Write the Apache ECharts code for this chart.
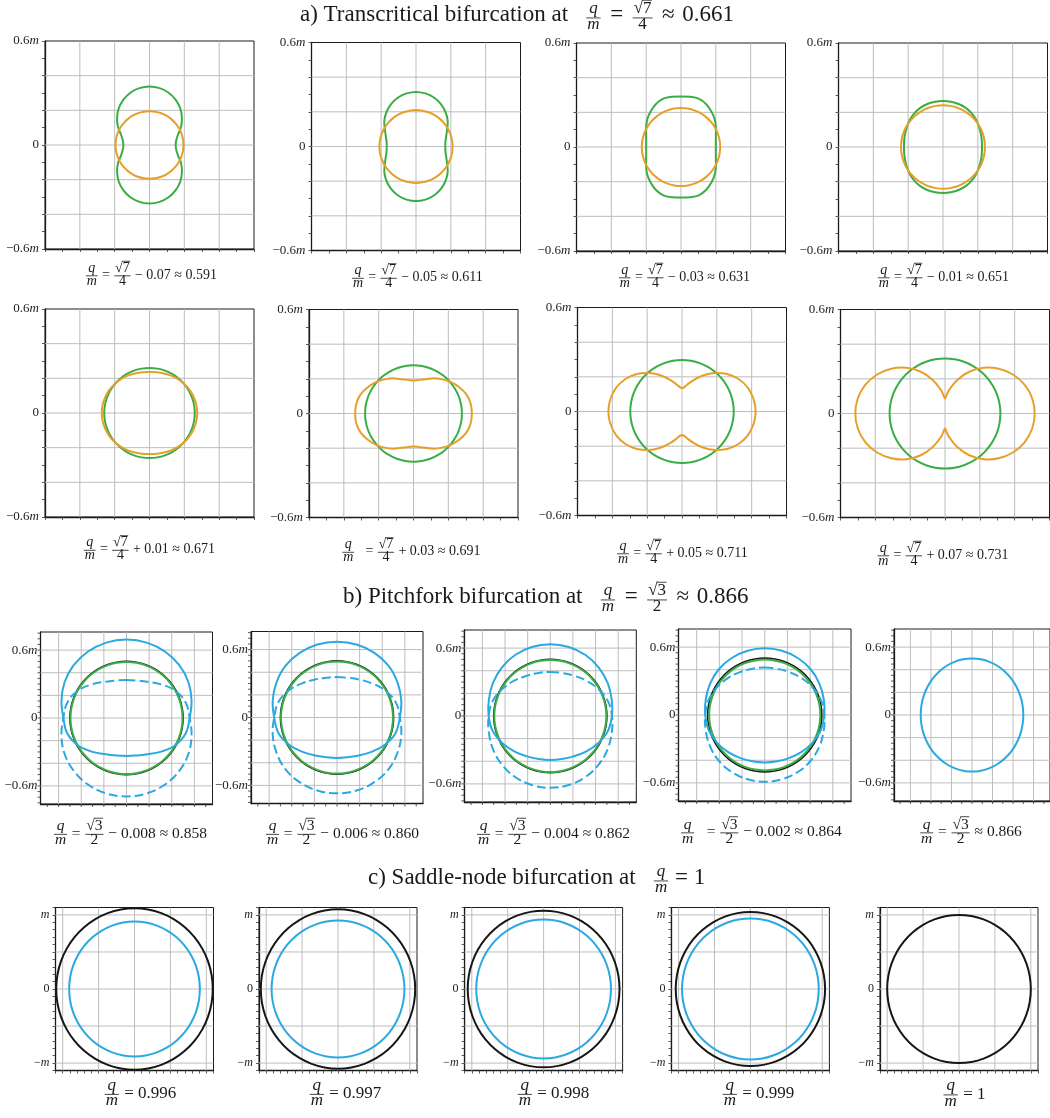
<!DOCTYPE html>
<html>
<head>
<meta charset="utf-8">
<script src="https://cdn.jsdelivr.net/npm/echarts/dist/echarts.min.js"></script>
<style>
  html, body { margin: 0; padding: 0; background: #fff; }
  #chart { width: 1050px; height: 1118px; }
</style>
</head>
<body>
<div id="chart"></div>
<script>
// ---------------------------------------------------------------------------
// Orbit shapes as radius profiles (units of m), sampled at fixed polar angles.
// Quarter profiles run 0..90 deg and are mirrored into both axes;
// half profiles run -90..90 deg (right half) and are mirrored across x = 0.
// ---------------------------------------------------------------------------
const QUARTER_ANGLES = [0, 10, 20, 30, 40, 50, 60, 70, 80, 90];
const CUSP_ANGLES = [0, 10, 20, 30, 40, 50, 60, 70, 80, 85, 90];
const HALF_ANGLES = [-90, -75, -60, -45, -30, -15, 0, 15, 30, 45, 60, 75, 90];

// a) transcritical bifurcation, q/m = sqrt(7)/4 + delta
const a1Green  = [0.150, 0.156, 0.174, 0.209, 0.243, 0.275, 0.301, 0.321, 0.333, 0.337];
const a1Orange = [0.195, 0.195, 0.195, 0.195, 0.195, 0.195, 0.195, 0.195, 0.195, 0.195];
const a2Green  = [0.168, 0.172, 0.185, 0.207, 0.237, 0.262, 0.284, 0.301, 0.311, 0.315];
const a2Orange = [0.210, 0.210, 0.210, 0.210, 0.210, 0.210, 0.210, 0.210, 0.210, 0.210];
const a3Green  = [0.200, 0.203, 0.213, 0.231, 0.252, 0.270, 0.287, 0.297, 0.294, 0.292];
const a3Orange = [0.225, 0.225, 0.225, 0.225, 0.225, 0.225, 0.225, 0.225, 0.225, 0.225];
const a4Green  = [0.224, 0.226, 0.231, 0.238, 0.247, 0.255, 0.261, 0.264, 0.265, 0.265];
const a4Orange = [0.241, 0.241, 0.241, 0.241, 0.241, 0.241, 0.241, 0.241, 0.241, 0.241];
const a5Green  = [0.260, 0.260, 0.260, 0.260, 0.260, 0.260, 0.260, 0.260, 0.260, 0.260];
const a5Orange = [0.274, 0.273, 0.270, 0.266, 0.261, 0.255, 0.249, 0.243, 0.239, 0.237];
const a6Green  = [0.278, 0.278, 0.278, 0.278, 0.278, 0.278, 0.278, 0.278, 0.278, 0.278];
const a6Orange = [0.335, 0.333, 0.323, 0.303, 0.281, 0.257, 0.235, 0.211, 0.197, 0.190];
const a7Green  = [0.297, 0.297, 0.297, 0.297, 0.297, 0.297, 0.297, 0.297, 0.297, 0.297];
const a7Orange = [0.423, 0.417, 0.402, 0.375, 0.337, 0.290, 0.240, 0.193, 0.155, 0.141, 0.135]; // CUSP_ANGLES
const a8Green  = [0.318, 0.318, 0.318, 0.318, 0.318, 0.318, 0.318, 0.318, 0.318, 0.318];
const a8Orange = [0.515, 0.508, 0.486, 0.450, 0.402, 0.344, 0.278, 0.206, 0.138, 0.108, 0.087]; // CUSP_ANGLES

// b) pitchfork bifurcation: upper blue branch (half profile); the dashed branch is its mirror in y
const b1Blue = [0.336, 0.343, 0.370, 0.423, 0.490, 0.540, 0.558, 0.595, 0.632, 0.660, 0.679, 0.690, 0.693];
const b2Blue = [0.357, 0.363, 0.388, 0.430, 0.485, 0.535, 0.555, 0.588, 0.618, 0.645, 0.660, 0.668, 0.670];
const b3Blue = [0.389, 0.394, 0.412, 0.445, 0.485, 0.525, 0.545, 0.562, 0.585, 0.606, 0.622, 0.631, 0.634];
const b4Blue = [0.419, 0.423, 0.437, 0.460, 0.487, 0.512, 0.525, 0.538, 0.556, 0.572, 0.582, 0.588, 0.590];
const b1Black = [0.500, 0.500, 0.500, 0.500, 0.500, 0.500, 0.500, 0.500, 0.500, 0.500];
const b1Green = [0.495, 0.495, 0.495, 0.495, 0.495, 0.495, 0.495, 0.495, 0.495, 0.495];
const b2Black = [0.500, 0.500, 0.500, 0.500, 0.500, 0.500, 0.500, 0.500, 0.500, 0.500];
const b2Green = [0.495, 0.495, 0.495, 0.495, 0.495, 0.495, 0.495, 0.495, 0.495, 0.495];
const b3Black = [0.500, 0.500, 0.500, 0.500, 0.500, 0.500, 0.500, 0.500, 0.500, 0.500];
const b3Green = [0.495, 0.495, 0.495, 0.495, 0.495, 0.495, 0.495, 0.495, 0.495, 0.495];
const b4Black = [0.503, 0.503, 0.503, 0.503, 0.503, 0.503, 0.503, 0.503, 0.503, 0.503];
const b4Green = [0.490, 0.490, 0.490, 0.490, 0.490, 0.490, 0.490, 0.490, 0.490, 0.490];
const b5Blue  = [0.500, 0.500, 0.500, 0.500, 0.500, 0.500, 0.500, 0.500, 0.500, 0.500];

// c) saddle-node bifurcation
const c1Black = [1.090, 1.090, 1.090, 1.090, 1.090, 1.090, 1.090, 1.090, 1.090, 1.090];
const c1Blue  = [0.910, 0.910, 0.910, 0.910, 0.910, 0.910, 0.910, 0.910, 0.910, 0.910];
const c2Black = [1.075, 1.075, 1.075, 1.075, 1.075, 1.075, 1.075, 1.075, 1.075, 1.075];
const c2Blue  = [0.925, 0.925, 0.925, 0.925, 0.925, 0.925, 0.925, 0.925, 0.925, 0.925];
const c3Black = [1.057, 1.057, 1.057, 1.057, 1.057, 1.057, 1.057, 1.057, 1.057, 1.057];
const c3Blue  = [0.938, 0.938, 0.938, 0.938, 0.938, 0.938, 0.938, 0.938, 0.938, 0.938];
const c4Black = [1.040, 1.040, 1.040, 1.040, 1.040, 1.040, 1.040, 1.040, 1.040, 1.040];
const c4Blue  = [0.952, 0.952, 0.952, 0.952, 0.952, 0.952, 0.952, 0.952, 0.952, 0.952];
const c5Black = [1.000, 1.000, 1.000, 1.000, 1.000, 1.000, 1.000, 1.000, 1.000, 1.000];

// Grid-line values, tick-mark values and labelled ticks of the panel axes
const GRID_A = [-0.4, -0.2, 0, 0.2, 0.4];
const GRID_B = [-0.6, -0.4, -0.2, 0, 0.2, 0.4, 0.6];
const GRID_C = [-1, -0.5, 0, 0.5, 1];
const TICKS_B_X = [-0.7, -0.6, -0.5, -0.4, -0.3, -0.2, -0.1, 0, 0.1, 0.2, 0.3, 0.4, 0.5, 0.6, 0.7];
const TICKS_B_Y = [-0.75, -0.7, -0.65, -0.6, -0.55, -0.5, -0.45, -0.4, -0.35, -0.3, -0.25, -0.2, -0.15, -0.1, -0.05, 0,
                   0.05, 0.1, 0.15, 0.2, 0.25, 0.3, 0.35, 0.4, 0.45, 0.5, 0.55, 0.6, 0.65, 0.7, 0.75];
const LABEL_VALUES_AB = [0.6, 0, -0.6];
const LABEL_TEXT_AB = ['0.6{i|m}', '0', '\u22120.6{i|m}'];
const LABEL_VALUES_C = [1, 0, -1];
const LABEL_TEXT_C = ['{i|m}', '0', '\u2212{i|m}'];

// Caption texts
const A_TAILS = ['\u2212 0.07 \u2248 0.591', '\u2212 0.05 \u2248 0.611', '\u2212 0.03 \u2248 0.631', '\u2212 0.01 \u2248 0.651',
                 '+ 0.01 \u2248 0.671', '+ 0.03 \u2248 0.691', '+ 0.05 \u2248 0.711', '+ 0.07 \u2248 0.731'];
const B_TAILS = ['\u2212 0.008 \u2248 0.858', '\u2212 0.006 \u2248 0.860', '\u2212 0.004 \u2248 0.862', '\u2212 0.002 \u2248 0.864', '\u2248 0.866'];
const C_VALUES = ['0.996', '0.997', '0.998', '0.999', '1'];
const TITLE_A = 'a) Transcritical bifurcation at';
const TITLE_B = 'b) Pitchfork bifurcation at';
const TITLE_C = 'c) Saddle-node bifurcation at';

// ---------------------------------------------------------------------------
// Styling
// ---------------------------------------------------------------------------
const FONT = '"Liberation Serif", "Times New Roman", serif';
const INK = '#1a1a1a';
const COL = { green: '#3aad44', orange: '#e6a02a', blue: '#2aa9e0', black: '#161616', grid: '#bdbdbd' };

// ---------------------------------------------------------------------------
// Profile -> closed point loop
// ---------------------------------------------------------------------------
const RAD = Math.PI / 180;
function polarPt(r, deg) { return [r * Math.cos(deg * RAD), r * Math.sin(deg * RAD)]; }

function loopFromQuarter(radii, A) {
  const n = A.length, pts = [];
  for (let i = 0; i < n; i++) pts.push(polarPt(radii[i], A[i]));
  for (let i = n - 2; i >= 0; i--) pts.push(polarPt(radii[i], 180 - A[i]));
  for (let i = 1; i < n; i++) pts.push(polarPt(radii[i], 180 + A[i]));
  for (let i = n - 2; i >= 1; i--) pts.push(polarPt(radii[i], 360 - A[i]));
  return pts;
}
function loopFromHalf(radii, mirrorY) {
  const H = HALF_ANGLES, m = H.length, pts = [];
  for (let j = 0; j < m; j++) pts.push(polarPt(radii[j], H[j]));
  for (let j = m - 2; j >= 1; j--) pts.push(polarPt(radii[j], 180 - H[j]));
  return mirrorY ? pts.map(p => [p[0], -p[1]]) : pts;
}

// ---------------------------------------------------------------------------
// Panel layout (pixels) and contents
// ---------------------------------------------------------------------------
const RANGE_A = [-0.6, 0.6, -0.6, 0.6];
const RANGE_B = [-0.76, 0.76, -0.76, 0.76];
const RANGE_C = [-1.1, 1.1, -1.1, 1.1];

const q = d => ({ data: d, kind: 'quarter', angles: QUARTER_ANGLES });
const qc = d => ({ data: d, kind: 'quarter', angles: CUSP_ANGLES });
const hf = (d, flip) => ({ data: d, kind: 'half', flip });
const DASH = [9, 4];

const PANELS = [
  // row a1
  { rect: [45, 41, 209, 208],      range: RANGE_A, tick: 0.1, grid: GRID_A, sec: 'a', curves: [[q(a1Green), COL.green, 2], [q(a1Orange), COL.orange, 2]] },
  { rect: [311.5, 42.5, 209, 208], range: RANGE_A, tick: 0.1, grid: GRID_A, sec: 'a', curves: [[q(a2Green), COL.green, 2], [q(a2Orange), COL.orange, 2]] },
  { rect: [576.5, 43, 209, 208],   range: RANGE_A, tick: 0.1, grid: GRID_A, sec: 'a', curves: [[q(a3Green), COL.green, 2], [q(a3Orange), COL.orange, 2]] },
  { rect: [838.5, 43, 209, 208],   range: RANGE_A, tick: 0.1, grid: GRID_A, sec: 'a', curves: [[q(a4Green), COL.green, 2], [q(a4Orange), COL.orange, 2]] },
  // row a2
  { rect: [45, 309, 209, 208],      range: RANGE_A, tick: 0.1, grid: GRID_A, sec: 'a', curves: [[q(a5Green), COL.green, 2], [q(a5Orange), COL.orange, 2]] },
  { rect: [309, 309.5, 209, 208],   range: RANGE_A, tick: 0.1, grid: GRID_A, sec: 'a', curves: [[q(a6Green), COL.green, 2], [q(a6Orange), COL.orange, 2]] },
  { rect: [577.5, 307.5, 209, 208], range: RANGE_A, tick: 0.1, grid: GRID_A, sec: 'a', curves: [[q(a7Green), COL.green, 2], [qc(a7Orange), COL.orange, 2]] },
  { rect: [840.5, 309.5, 209, 208], range: RANGE_A, tick: 0.1, grid: GRID_A, sec: 'a', curves: [[q(a8Green), COL.green, 2], [qc(a8Orange), COL.orange, 2]] },
  // row b (tick marks drawn from TICKS_B_X / TICKS_B_Y)
  { rect: [40.5, 632, 172, 172],    range: RANGE_B, tick: 0.04, grid: GRID_B, sec: 'b', curves: [[q(b1Black), COL.black, 1.6], [q(b1Green), COL.green, 2], [hf(b1Blue, false), COL.blue, 2], [hf(b1Blue, true), COL.blue, 2, DASH]] },
  { rect: [251, 631.5, 172, 172],   range: RANGE_B, tick: 0.04, grid: GRID_B, sec: 'b', curves: [[q(b2Black), COL.black, 1.6], [q(b2Green), COL.green, 2], [hf(b2Blue, false), COL.blue, 2], [hf(b2Blue, true), COL.blue, 2, DASH]] },
  { rect: [464.3, 630, 172, 172],   range: RANGE_B, tick: 0.04, grid: GRID_B, sec: 'b', curves: [[q(b3Black), COL.black, 1.6], [q(b3Green), COL.green, 2], [hf(b3Blue, false), COL.blue, 2], [hf(b3Blue, true), COL.blue, 2, DASH]] },
  { rect: [678.5, 629, 172.5, 172], range: RANGE_B, tick: 0.04, grid: GRID_B, sec: 'b', curves: [[q(b4Black), COL.black, 1.6], [q(b4Green), COL.green, 2], [hf(b4Blue, false), COL.blue, 2], [hf(b4Blue, true), COL.blue, 2, DASH]] },
  { rect: [894, 629, 166, 172],     range: RANGE_B, tick: 0.04, grid: GRID_B, sec: 'b', curves: [[q(b5Blue), COL.blue, 2]] },
  // row c
  { rect: [55.5, 907.5, 158, 163],  range: RANGE_C, tick: 0.1, grid: GRID_C, sec: 'c', curves: [[q(c1Black), COL.black, 2], [q(c1Blue), COL.blue, 2]] },
  { rect: [259, 907.5, 158, 163],   range: RANGE_C, tick: 0.1, grid: GRID_C, sec: 'c', curves: [[q(c2Black), COL.black, 2], [q(c2Blue), COL.blue, 2]] },
  { rect: [464.6, 907.5, 158, 163], range: RANGE_C, tick: 0.1, grid: GRID_C, sec: 'c', curves: [[q(c3Black), COL.black, 2], [q(c3Blue), COL.blue, 2]] },
  { rect: [671.4, 907.5, 158, 163], range: RANGE_C, tick: 0.1, grid: GRID_C, sec: 'c', curves: [[q(c4Black), COL.black, 2], [q(c4Blue), COL.blue, 2]] },
  { rect: [880, 907.5, 158, 163],   range: RANGE_C, tick: 0.1, grid: GRID_C, sec: 'c', curves: [[q(c5Black), COL.black, 2]] }
];

// ---------------------------------------------------------------------------
// Build the ECharts option
// ---------------------------------------------------------------------------
const grids = [], xAxes = [], yAxes = [], series = [];
const TICK_LEN = 3;

function labelFormatter(values, texts) {
  return v => {
    for (let i = 0; i < values.length; i++) if (Math.abs(v - values[i]) < 1e-6) return texts[i];
    return '';
  };
}

PANELS.forEach((p, gi) => {
  const [left, top, width, height] = p.rect;
  const r = p.range;
  const ownTicks = p.sec === 'b';
  grids.push({ left, top, width, height, show: true, borderColor: INK, borderWidth: 1, backgroundColor: 'transparent', containLabel: false });
  const tickStyle = { show: !ownTicks, inside: false, length: TICK_LEN, lineStyle: { color: '#333', width: 0.8 } };
  xAxes.push({
    type: 'value', gridIndex: gi, min: r[0], max: r[1], interval: p.tick, position: 'bottom',
    axisLine: { show: true, onZero: false, lineStyle: { color: INK, width: 1.3 } },
    axisTick: tickStyle, axisLabel: { show: false }, splitLine: { show: false }
  });
  const isC = p.sec === 'c';
  yAxes.push({
    type: 'value', gridIndex: gi, min: r[2], max: r[3], interval: p.tick, position: 'left',
    axisLine: { show: true, onZero: false, lineStyle: { color: INK, width: 1.3 } },
    axisTick: tickStyle, splitLine: { show: false },
    axisLabel: {
      show: true, showMinLabel: true, showMaxLabel: true,
      margin: p.sec === 'b' ? 3 : 6,
      fontFamily: FONT, fontSize: isC ? 12 : 13, color: '#222',
      formatter: isC ? labelFormatter(LABEL_VALUES_C, LABEL_TEXT_C) : labelFormatter(LABEL_VALUES_AB, LABEL_TEXT_AB),
      rich: { i: { fontFamily: FONT, fontStyle: 'italic', fontSize: isC ? 12 : 13, color: '#222' } }
    }
  });

  // light grid lines at the listed values
  series.push({
    type: 'custom', coordinateSystem: 'cartesian2d', xAxisIndex: gi, yAxisIndex: gi, silent: true, z: 1,
    data: p.grid.map(v => [v, v]),
    renderItem: (params, api) => {
      const v = api.value(0);
      const a = api.coord([v, r[2]]), b = api.coord([v, r[3]]);
      const c = api.coord([r[0], v]), d = api.coord([r[1], v]);
      return {
        type: 'group', children: [
          { type: 'line', shape: { x1: a[0], y1: a[1], x2: b[0], y2: b[1] }, style: { stroke: COL.grid, lineWidth: 1 } },
          { type: 'line', shape: { x1: c[0], y1: c[1], x2: d[0], y2: d[1] }, style: { stroke: COL.grid, lineWidth: 1 } }
        ]
      };
    }
  });

  // outward tick marks at explicit values (pitchfork panels)
  if (ownTicks) {
    const tickLine = (x1, y1, x2, y2) => ({ type: 'line', shape: { x1, y1, x2, y2 }, style: { stroke: '#333', lineWidth: 0.8 } });
    series.push({
      type: 'custom', coordinateSystem: 'cartesian2d', xAxisIndex: gi, yAxisIndex: gi, silent: true, z: 2,
      data: TICKS_B_X.map(v => [v, r[2]]),
      renderItem: (params, api) => { const c = api.coord([api.value(0), r[2]]); return tickLine(c[0], c[1], c[0], c[1] + TICK_LEN); }
    });
    series.push({
      type: 'custom', coordinateSystem: 'cartesian2d', xAxisIndex: gi, yAxisIndex: gi, silent: true, z: 2,
      data: TICKS_B_Y.map(v => [r[0], v]),
      renderItem: (params, api) => { const c = api.coord([r[0], api.value(1)]); return tickLine(c[0] - TICK_LEN, c[1], c[0], c[1]); }
    });
  }

  // orbit curves as closed smooth loops
  p.curves.forEach(([prof, color, width, dash], k) => {
    const pts = prof.kind === 'quarter' ? loopFromQuarter(prof.data, prof.angles) : loopFromHalf(prof.data, prof.flip);
    series.push({
      type: 'custom', coordinateSystem: 'cartesian2d', xAxisIndex: gi, yAxisIndex: gi, silent: true, z: 3 + k,
      data: pts,
      renderItem: (params, api) => {
        if (params.dataIndex !== 0) return null;
        return {
          type: 'polygon',
          shape: { points: pts.map(pt => api.coord(pt)), smooth: 0.4 },
          style: { fill: 'none', stroke: color, lineWidth: width, lineDash: dash || null }
        };
      }
    });
  });
});

// ---------------------------------------------------------------------------
// Typeset captions and titles (stacked fractions, square roots)
// ---------------------------------------------------------------------------
const mctx = document.createElement('canvas').getContext('2d');
function fnt(size, it) { return (it ? 'italic ' : '') + size + 'px ' + FONT; }
function tw(s, size, it) { mctx.font = fnt(size, it); return mctx.measureText(s).width; }
const MID = 0.34; // canvas "middle" baseline sits this far (em) above the alphabetic one

function txt(s, x, base, size, it) {
  return {
    type: 'text', x, y: base - MID * size, silent: true,
    style: { text: s, font: fnt(size, it), fill: INK, textAlign: 'left', textVerticalAlign: 'middle', verticalAlign: 'middle' }
  };
}
function rule(x1, x2, y) {
  return { type: 'line', silent: true, shape: { x1, y1: y, x2, y2: y }, style: { stroke: INK, lineWidth: 0.8 } };
}
function atomW(a, size) {
  if (typeof a === 'string') return tw(a, size, false);
  if (a.it != null) return tw(a.it, size, true);
  if (a.sqrt != null) return tw('\u221A', size, false) + tw(a.sqrt, size, false);
  return 0;
}
function atomDraw(a, x, base, size, out) {
  if (typeof a === 'string') { out.push(txt(a, x, base, size, false)); return; }
  if (a.it != null) { out.push(txt(a.it, x, base, size, true)); return; }
  if (a.sqrt != null) {
    const w0 = tw('\u221A', size, false);
    out.push(txt('\u221A', x, base, size, false));
    out.push(txt(a.sqrt, x + w0, base, size, false));
    out.push(rule(x + w0 - 0.6, x + w0 + tw(a.sqrt, size, false) + 0.5, base - 0.84 * size));
  }
}
function itemSize(it, size) { return it.size || size; }
function itemW(it, size) {
  const s = itemSize(it, size);
  if (it.frac) return Math.max(atomW(it.frac[0], s), atomW(it.frac[1], s)) + 0.24 * s;
  if (it.gap != null) return it.gap * size;
  return atomW(it, size);
}
// lays out a row of text / fraction items; anchor is the centre x, or the left x when alignLeft
function mathLine(items, ax, base, size, axis, alignLeft) {
  const total = items.reduce((s, it) => s + itemW(it, size), 0);
  let x = alignLeft ? ax : ax - total / 2;
  const out = [];
  items.forEach(it => {
    const w = itemW(it, size);
    if (it.frac) {
      const s = itemSize(it, size);
      const bar = base - axis * size;
      const [n, d] = it.frac;
      atomDraw(n, x + (w - atomW(n, s)) / 2, bar - 0.2 * s, s, out);
      atomDraw(d, x + (w - atomW(d, s)) / 2, bar + 0.72 * s, s, out);
      out.push(rule(x + 0.06 * s, x + w - 0.06 * s, bar));
    } else if (it.gap == null) {
      atomDraw(it, x, base, size, out);
    }
    x += w;
  });
  return out;
}

const QM = s => ({ frac: [{ it: 'q' }, { it: 'm' }], size: s });
const R7 = s => ({ frac: [{ sqrt: '7' }, '4'], size: s });
const R3 = s => ({ frac: [{ sqrt: '3' }, '2'], size: s });
const G = e => ({ gap: e });

// caption anchors: [centre x, text baseline y], plus extra gap after q/m
const CAP_A = [[151, 280], [417, 282.5], [684, 282], [943, 282], [149, 554.5], [411, 556.5], [682, 558], [942.5, 560]];
const CAP_A_GAP = [0, 0, 0, 0, 0, 0.5, 0, 0];
const CAP_B = [[130, 839], [342, 839], [553, 839], [761, 837.5], [970.5, 837.5]];
const CAP_B_GAP = [0, 0, 0, 0.5, 0];
const CAP_C = [[140, 1099.5], [345, 1099.5], [553, 1099.5], [758, 1099.5], [964, 1100]];

const graphics = [];
A_TAILS.forEach((tail, i) => {
  graphics.push(...mathLine([QM(14), G(CAP_A_GAP[i]), ' = ', R7(14), ' ' + tail], CAP_A[i][0], CAP_A[i][1], 14, 0.3));
});
B_TAILS.forEach((tail, i) => {
  graphics.push(...mathLine([QM(15.5), G(CAP_B_GAP[i]), ' = ', R3(15.5), ' ' + tail], CAP_B[i][0], CAP_B[i][1], 15.5, 0.3));
});
C_VALUES.forEach((val, i) => {
  graphics.push(...mathLine([QM(17), ' = ' + val], CAP_C[i][0], CAP_C[i][1], 17, 0.3));
});
// section titles, left-anchored
graphics.push(...mathLine([TITLE_A, G(0.75), QM(17), G(0.12), ' = ', G(0.12), R7(17), G(0.12), ' \u2248 ', G(0.08), '0.661'], 300, 23, 23, 0.22, true));
graphics.push(...mathLine([TITLE_B, G(0.75), QM(17), G(0.12), ' = ', G(0.12), R3(17), G(0.12), ' \u2248 ', G(0.08), '0.866'], 343, 605, 23, 0.22, true));
graphics.push(...mathLine([TITLE_C, G(0.75), QM(17), ' = 1'], 368, 886, 23, 0.22, true));

const chart = echarts.init(document.getElementById('chart'), null, { renderer: 'canvas', width: 1050, height: 1118 });
chart.setOption({
  animation: false,
  backgroundColor: '#ffffff',
  grid: grids,
  xAxis: xAxes,
  yAxis: yAxes,
  series: series,
  graphic: { elements: graphics }
});
</script>
</body>
</html>
